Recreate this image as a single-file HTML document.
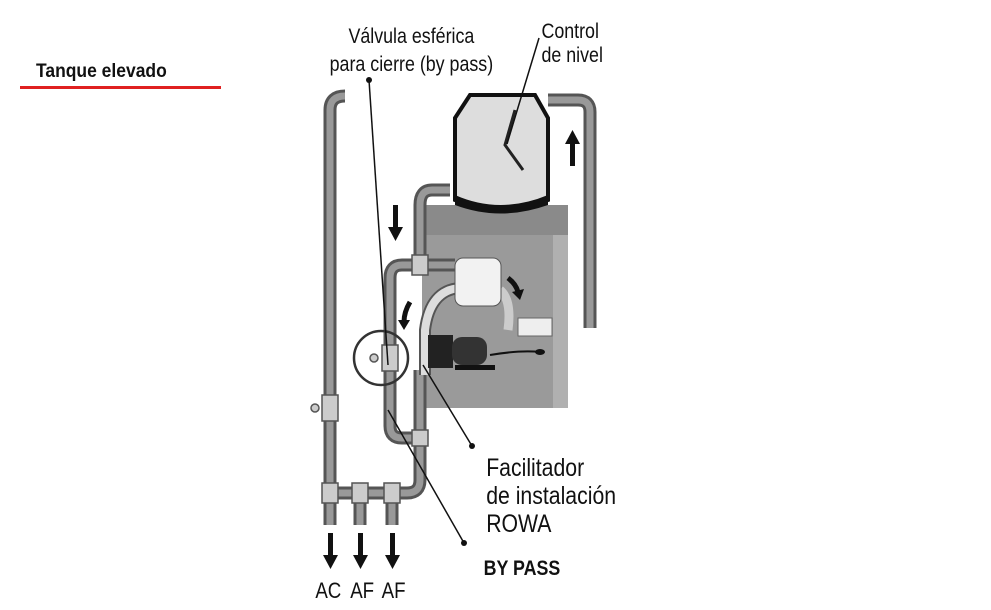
<!DOCTYPE html>
<html><head><meta charset="utf-8"><style>
body{margin:0;background:#fff}
svg{display:block}
text{font-family:"Liberation Sans",sans-serif;fill:#111}
</style></head><body>
<svg width="991" height="610" viewBox="0 0 991 610" xmlns="http://www.w3.org/2000/svg">
<text x="36" y="77" font-size="19" font-weight="bold" transform="translate(36,0) scale(0.92,1) translate(-36,0)">Tanque elevado</text>
<rect x="20" y="86" width="201" height="3" fill="#e02020"/>
<g transform="scale(0.85,1)">
<text x="484" y="43" font-size="21" text-anchor="middle">Válvula esférica</text>
<text x="484" y="71" font-size="21" text-anchor="middle">para cierre (by pass)</text>
<text x="637" y="38" font-size="21">Control</text>
<text x="637" y="62" font-size="21">de nivel</text>
<text x="572" y="476" font-size="25">Facilitador</text>
<text x="572" y="504" font-size="25">de instalación</text>
<text x="572" y="532" font-size="25">ROWA</text>
<text x="569" y="575" font-size="21" font-weight="bold" fill="#333">BY PASS</text>
<text x="371" y="598" font-size="22">AC</text>
<text x="412" y="598" font-size="22">AF</text>
<text x="449" y="598" font-size="22">AF</text>
</g>
<!-- box -->
<rect x="422" y="205" width="146" height="203" fill="#9a9a9a"/>
<rect x="422" y="205" width="146" height="30" fill="#8a8a8a"/>
<rect x="553" y="235" width="15" height="173" fill="#b0b0b0"/>
<!-- tank -->
<path d="M470 95 L535 95 L548 118 L548 200 Q500 218 455 200 L455 118 Z" fill="#ddd" stroke="#111" stroke-width="4"/>
<path d="M455 195 Q500 215 548 195 L548 205 Q500 222 455 205 Z" fill="#111"/>
<path d="M515 110 L505 145 L523 170" fill="none" stroke="#222" stroke-width="3"/>
<!-- pipes -->
<g fill="none" stroke="#555" stroke-width="13">
<path d="M330 525 L330 110 Q330 96 345 96"/>
<path d="M548 100 L578 100 Q590 100 590 112 L590 328"/>
<path d="M450 190 L432 190 Q420 190 420 205 L420 265"/>
<path d="M455 265 L402 265 Q390 265 390 278 L390 426 Q390 438 402 438 L420 438"/>
<path d="M420 370 L420 480 Q420 493 407 493 L330 493"/>
<path d="M360 493 L360 525 M392 493 L392 525"/>
</g>
<g fill="none" stroke="#999" stroke-width="7">
<path d="M330 525 L330 110 Q330 96 345 96"/>
<path d="M548 100 L578 100 Q590 100 590 112 L590 328"/>
<path d="M450 190 L432 190 Q420 190 420 205 L420 265"/>
<path d="M455 265 L402 265 Q390 265 390 278 L390 426 Q390 438 402 438 L420 438"/>
<path d="M420 370 L420 480 Q420 493 407 493 L330 493"/>
<path d="M360 493 L360 525 M392 493 L392 525"/>
</g>
<g fill="#ccc" stroke="#555" stroke-width="1.5">
<rect x="322" y="483" width="16" height="20"/><rect x="352" y="483" width="16" height="20"/><rect x="384" y="483" width="16" height="20"/>
<rect x="322" y="395" width="16" height="26"/><rect x="382" y="345" width="16" height="26"/>
<rect x="412" y="255" width="16" height="20"/><rect x="412" y="430" width="16" height="16"/>
<circle cx="315" cy="408" r="4"/><circle cx="374" cy="358" r="4"/>
</g>
<circle cx="381" cy="358" r="27" fill="none" stroke="#333" stroke-width="2.5"/>
<!-- hose -->
<path d="M425 375 L425 330 Q430 290 460 288" fill="none" stroke="#555" stroke-width="12"/>
<path d="M425 375 L425 330 Q430 290 460 288" fill="none" stroke="#ddd" stroke-width="8"/>
<path d="M500 290 Q512 300 508 330" fill="none" stroke="#ccc" stroke-width="9"/>
<!-- pump -->
<rect x="455" y="258" width="46" height="48" rx="8" fill="#f2f2f2" stroke="#555"/>
<rect x="428" y="335" width="25" height="33" fill="#222"/>
<rect x="452" y="337" width="35" height="28" rx="10" fill="#333"/>
<rect x="455" y="365" width="40" height="5" fill="#111"/>
<path d="M490 355 Q520 350 540 352" stroke="#111" stroke-width="2" fill="none"/>
<ellipse cx="540" cy="352" rx="5" ry="3" fill="#111"/>
<rect x="518" y="318" width="34" height="18" fill="#eee" stroke="#666"/>
<!-- leader lines -->
<g stroke="#111" stroke-width="1.5" fill="none">
<line x1="369" y1="80" x2="388" y2="365"/>
<line x1="539" y1="38" x2="507" y2="144"/>
<line x1="423" y1="365" x2="472" y2="446"/>
<line x1="388" y1="410" x2="464" y2="543"/>
</g>
<circle cx="369" cy="80" r="3" fill="#111"/><circle cx="472" cy="446" r="3" fill="#111"/><circle cx="464" cy="543" r="3" fill="#111"/>
<!-- arrows -->
<g fill="#111">
<path d="M393 205h5v22h5l-7.5 14-7.5-14h5z"/>
<path d="M570 166h5v-22h5l-7.5-14-7.5 14h5z"/>
<path d="M328 533h5v22h5l-7.5 14-7.5-14h5z"/>
<path d="M358 533h5v22h5l-7.5 14-7.5-14h5z"/>
<path d="M390 533h5v22h5l-7.5 14-7.5-14h5z"/>
</g>
<path d="M410 302 Q404 312 404 322" stroke="#111" stroke-width="5" fill="none"/>
<path d="M398 320 L404 330 L410 320 Z" fill="#111"/>
<path d="M508 278 Q516 284 518 292" stroke="#111" stroke-width="5" fill="none"/>
<path d="M512 292 L520 300 L524 289 Z" fill="#111"/>
</svg>
</body></html>
